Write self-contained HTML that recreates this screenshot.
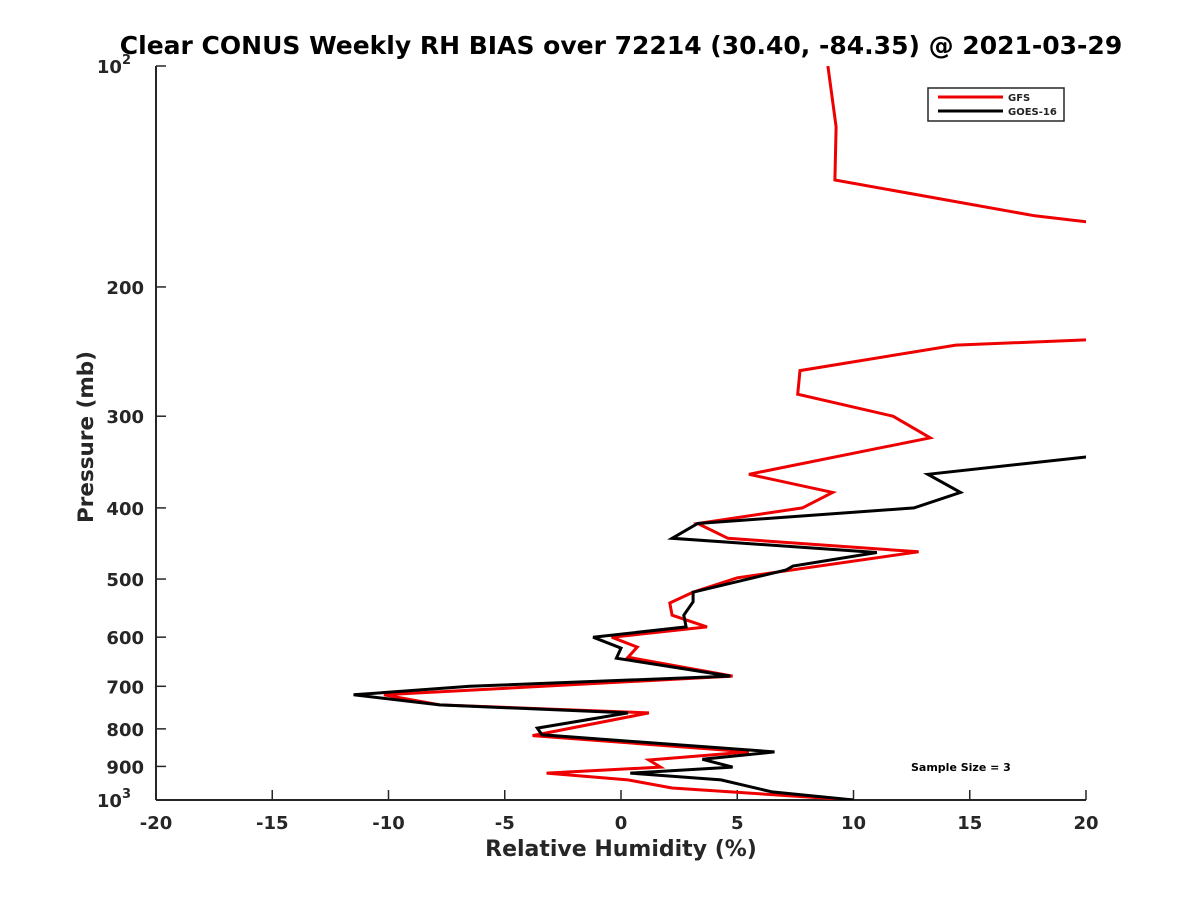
<!DOCTYPE html>
<html><head><meta charset="utf-8"><style>
html,body{margin:0;padding:0;background:#fff;}
svg{display:block;font-family:"DejaVu Sans","Liberation Sans",sans-serif;font-weight:bold;}
</style></head><body>
<svg id="chart" width="1200" height="900" viewBox="0 0 1200 900">
<defs><clipPath id="plotclip"><rect x="156" y="66" width="930" height="734"/></clipPath></defs>
<rect x="0" y="0" width="1200" height="900" fill="#fff"/>
<text x="621" y="54" text-anchor="middle" font-size="25" fill="#000">Clear CONUS Weekly RH BIAS over 72214 (30.40, -84.35) @ 2021-03-29</text>
<g id="axes"></g>
<g id="series" clip-path="url(#plotclip)"></g>
<g>
<rect x="928" y="88" width="136" height="33" fill="#fff" stroke="#262626" stroke-width="1.5"/>
<line x1="938" y1="97" x2="1003" y2="97" stroke="#e00" stroke-width="3"/>
<text x="1008" y="101" font-size="10" fill="#222">GFS</text>
<line x1="938" y1="111" x2="1003" y2="111" stroke="#000" stroke-width="3"/>
<text x="1008" y="115" font-size="10" fill="#222">GOES-16</text>
</g>
<text x="911" y="771" font-size="11" fill="#000">Sample Size = 3</text>
<text x="621" y="856" text-anchor="middle" font-size="22" fill="#262626">Relative Humidity (%)</text>
<text transform="translate(93,437) rotate(-90)" text-anchor="middle" font-size="21.5" fill="#262626">Pressure (mb)</text>
</svg>
<script>
const xTicks = [-20,-15,-10,-5,0,5,10,15,20];
const yTicks = [100,200,300,400,500,600,700,800,900,1000];
const gfsP = [100,121,143,160,170,230,236,240,260,280,300,321,360,381,400,420,440,459,498,521,539,560,581,600,619,639,678,719,742,761,817,860,882,902,919,939,963,1000];
const gfsV = [8.9,9.25,9.2,17.8,25,25,20.2,14.4,7.7,7.6,11.7,13.3,5.5,9.1,7.8,3.3,4.6,12.8,5.0,3.1,2.1,2.2,3.7,-0.4,0.7,0.3,4.8,-10.2,-7.8,1.2,-3.8,5.5,1.2,1.7,-3.2,0.3,2.2,10.0];
const goesP = [330,341,360,381,400,420,440,460,480,486,521,537,560,581,600,621,641,678,700,719,742,761,798,815,860,880,902,919,939,975,1000];
const goesV = [25,20,13.2,14.6,12.6,3.3,2.2,11.0,7.4,7.1,3.1,3.1,2.7,2.8,-1.2,0.0,-0.2,4.7,-6.5,-11.5,-7.8,0.3,-3.6,-3.4,6.6,3.5,4.8,0.4,4.3,6.5,10.0];

const L=156,R=1086,T=66,B=800;
const xS=v=>L+(v+20)/40*(R-L);
const yS=p=>T+(Math.log10(p)-2)*(B-T);
const NS='http://www.w3.org/2000/svg';
function mk(tag,attrs,parent){const e=document.createElementNS(NS,tag);for(const k in attrs)e.setAttribute(k,attrs[k]);parent.appendChild(e);return e;}
const ax=document.getElementById('axes');
let e=mk('line',{x1:L,y1:B,x2:R,y2:B,stroke:'#262626','stroke-width':2},ax);


e=mk('line',{x1:L,y1:T,x2:L,y2:B,stroke:'#262626','stroke-width':2},ax);


xTicks.forEach(v=>{
 const x=xS(v);
 let t=mk('line',{x1:x,y1:B,x2:x,y2:B-10,stroke:'#262626','stroke-width':1.5},ax);
 
 
 let l=mk('text',{x:x,y:B+29,'text-anchor':'middle','font-size':18,fill:'#262626'},ax);
 l.textContent=String(v);
 
 
});
yTicks.forEach(p=>{
 const y=yS(p);
 let t=mk('line',{x1:L,y1:y,x2:L+10,y2:y,stroke:'#262626','stroke-width':1.5},ax);
 
 
 let l=mk('text',{x:L-12,y:y+7,'text-anchor':'end','font-size':18,fill:'#262626'},ax);
 if(p===100||p===1000){
  l.textContent='10';
  l.setAttribute('x',L-25);
  let s=mk('tspan',{dy:-9,'font-size':13},l);
  s.textContent=p===100?'2':'3';
 } else l.textContent=String(p);
 
 
});
const sg=document.getElementById('series');
function line(P,V,color,name){
 const pts=P.map((p,i)=>xS(V[i]).toFixed(1)+','+yS(p).toFixed(1)).join(' ');
 const pl=mk('polyline',{points:pts,fill:'none',stroke:color,'stroke-width':3,'stroke-linejoin':'miter'},sg);
 
 
}
line(gfsP,gfsV,'#e00','gfs-line');
line(goesP,goesV,'#000','goes16-line');
</script>
</body></html>
